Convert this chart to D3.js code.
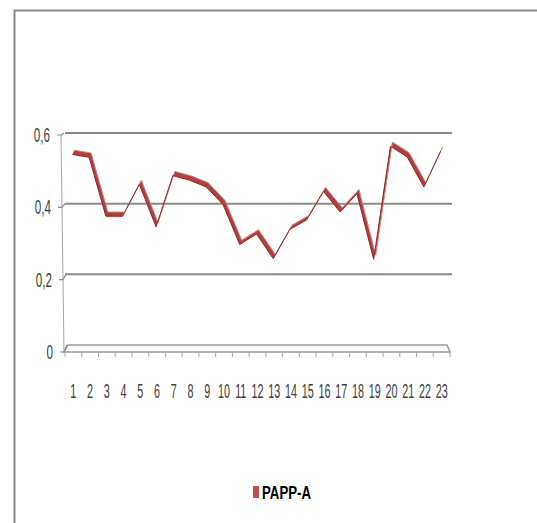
<!DOCTYPE html>
<html>
<head>
<meta charset="utf-8">
<script src="https://cdnjs.cloudflare.com/ajax/libs/d3/7.8.5/d3.min.js"></script>
<style>
body { margin: 0; background: #fff; }
text { font-family: "Liberation Sans", Arial, sans-serif; }
</style>
</head>
<body>
<svg id="mySVG" width="537" height="523"></svg>
<script>
// chart data
var categories = ["1","2","3","4","5","6","7","8","9","10","11","12","13","14","15","16","17","18","19","20","21","22","23"];
var pappA = [0.545, 0.537, 0.37, 0.37, 0.46, 0.34, 0.485, 0.472, 0.453, 0.403, 0.29, 0.32, 0.25, 0.333, 0.36, 0.44, 0.382, 0.434, 0.248, 0.568, 0.538, 0.453, 0.554];
var yTicks = [0, 0.2, 0.4, 0.6];
var yTickLabels = ["0", "0,2", "0,4", "0,6"];
var seriesName = "PAPP-A";

function drawChart(){
	var svg = d3.select('#mySVG');

	var x = d3.scaleBand()
		.domain(categories)
		.range([65, 450]);

	var y = d3.scaleLinear()
		.domain([0, 0.6])
		.range([345, 133]);

	// outer chart border (left + top only)
	svg.append('path')
		.attr('d', 'M14.5,523 V10.5 H537')
		.attr('fill', 'none')
		.attr('stroke', '#8c8c8c')
		.attr('stroke-width', 2);

	// front offset of the 3d wall, grows towards the floor
	function frontDy(v){ return 7 - (v / 0.6) * 5; }
	function axisX(v){ return 64 - (v / 0.6) * 3; }

	// vertical axis
	svg.append('line')
		.attr('x1', axisX(0.6)).attr('y1', y(0.6) + frontDy(0.6))
		.attr('x2', axisX(0)).attr('y2', y(0) + frontDy(0))
		.attr('stroke', '#a6a6a6')
		.attr('stroke-width', 1);

	// floor
	svg.append('path')
		.attr('d', 'M' + axisX(0) + ',' + (y(0) + frontDy(0)) +
			' L' + (x.range()[0] + 3) + ',' + y(0) +
			' L' + (x.range()[1] - 3) + ',' + y(0) +
			' L' + x.range()[1] + ',' + (y(0) + frontDy(0)) + ' Z')
		.attr('fill', '#fdfdfd')
		.attr('stroke', '#9a9a9a')
		.attr('stroke-width', 1.5);

	// back wall gridlines
	svg.selectAll('.grid')
		.data(yTicks.filter(function(d){ return d > 0; }))
		.enter()
		.append('line')
		.attr('class', 'grid')
		.attr('x1', 65)
		.attr('x2', 452)
		.attr('y1', function(d){ return y(d); })
		.attr('y2', function(d){ return y(d); })
		.attr('stroke', '#8a8a8a')
		.attr('stroke-width', 2);

	// small depth connectors + tick marks at the axis
	svg.selectAll('.conn')
		.data(yTicks)
		.enter()
		.append('path')
		.attr('class', 'conn')
		.attr('d', function(d){
			var fy = y(d) + frontDy(d);
			return 'M' + (axisX(d) - 4) + ',' + fy + ' L' + axisX(d) + ',' + fy + ' L' + (axisX(d) + 3) + ',' + y(d);
		})
		.attr('fill', 'none')
		.attr('stroke', '#8a8a8a')
		.attr('stroke-width', 1.2);

	// y labels
	svg.selectAll('.ylab')
		.data(yTicks)
		.enter()
		.append('text')
		.attr('class', 'ylab')
		.attr('text-anchor', 'end')
		.attr('transform', function(d){
			return 'translate(' + (axisX(d) - 11) + ',' + (y(d) + frontDy(d) + 7) + ') scale(0.78,1.35)';
		})
		.attr('font-size', 15)
		.attr('fill', '#404040')
		.text(function(d, i){ return yTickLabels[i]; });

	// x ticks at band edges
	var edges = categories.map(function(c){ return x(c); }).concat([x.range()[1]]);
	svg.selectAll('.xtick')
		.data(edges)
		.enter()
		.append('line')
		.attr('class', 'xtick')
		.attr('x1', function(d){ return d; })
		.attr('x2', function(d){ return d; })
		.attr('y1', 352)
		.attr('y2', 357)
		.attr('stroke', '#a6a6a6')
		.attr('stroke-width', 1);

	// x labels
	svg.selectAll('.xlab')
		.data(categories)
		.enter()
		.append('text')
		.attr('class', 'xlab')
		.attr('text-anchor', 'middle')
		.attr('transform', function(d){
			return 'translate(' + (x(d) + x.bandwidth() / 2) + ',398) scale(0.72,1.4)';
		})
		.attr('font-size', 15)
		.attr('fill', '#404040')
		.text(function(d){ return d; });

	// the 3d ribbon of the line
	var pts = categories.map(function(c, i){ return {c: c, v: pappA[i]}; });
	var cx = function(d){ return x(d.c) + x.bandwidth() / 2; };

	var ribbon = d3.area()
		.x0(function(d){ return cx(d) - 1; })
		.x1(function(d){ return cx(d) + 1; })
		.y0(function(d){ return y(d.v) + 2; })
		.y1(function(d){ return y(d.v) - 2.2; });

	svg.append('path')
		.datum(pts)
		.attr('d', ribbon)
		.attr('fill', '#b0403d');

	var top = d3.line()
		.x(function(d){ return cx(d) + 1; })
		.y(function(d){ return y(d.v) - 2.2; });
	var bottom = d3.line()
		.x(function(d){ return cx(d) - 1; })
		.y(function(d){ return y(d.v) + 2; });

	svg.append('path')
		.datum(pts)
		.attr('d', top)
		.attr('fill', 'none')
		.attr('stroke', '#d9807c')
		.attr('stroke-width', 1);

	svg.append('path')
		.datum(pts)
		.attr('d', bottom)
		.attr('fill', 'none')
		.attr('stroke', '#8a2a28')
		.attr('stroke-width', 1);

	// legend
	svg.append('rect')
		.attr('x', 253)
		.attr('y', 486)
		.attr('width', 6)
		.attr('height', 12)
		.attr('fill', '#c0504d');

	svg.append('text')
		.attr('transform', 'translate(262,499) scale(0.78,1.05)')
		.attr('font-size', 17)
		.attr('font-weight', 'bold')
		.attr('fill', '#000')
		.text(seriesName);
}

drawChart();
</script>
</body>
</html>
